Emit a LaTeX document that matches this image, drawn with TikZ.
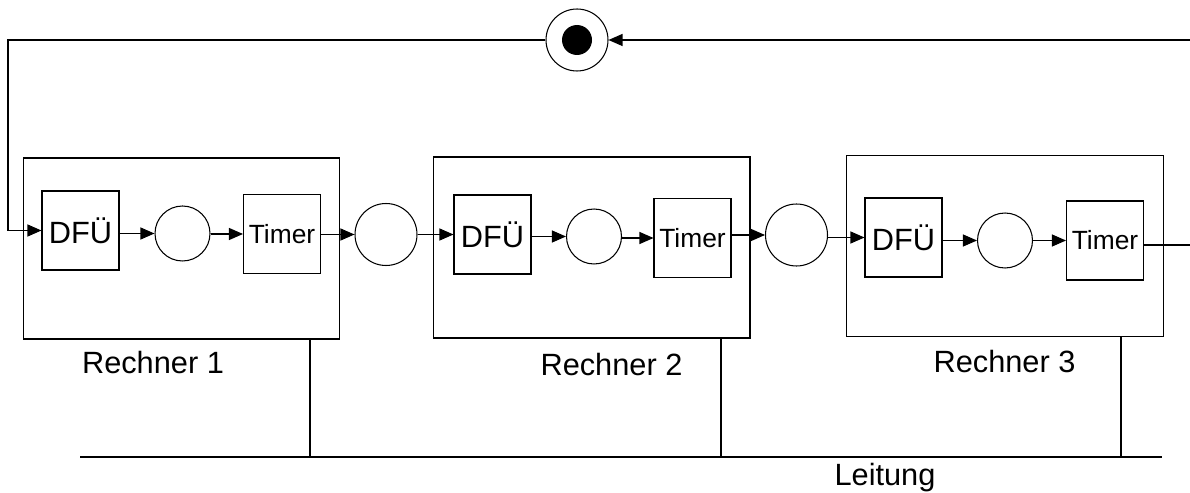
\documentclass[tikz,border=0pt]{standalone}
\usepackage{fontspec}
\setmainfont{Liberation Sans}
\usetikzlibrary{arrows.meta}

\begin{document}
\begin{tikzpicture}[x=0.02cm,y=-0.02cm,line width=0.6pt,
  rechner/.style={draw,minimum width=6.34cm,minimum height=3.62cm,inner sep=0pt},
  kasten/.style={draw,minimum width=1.54cm,minimum height=1.58cm,inner sep=0pt,font=\fontsize{17.5}{20}\selectfont},
  uhr/.style={kasten,font=\fontsize{15}{18}\selectfont},
  kreis/.style={draw,circle,minimum size=1.1cm,inner sep=0pt},
  zwischen/.style={draw,circle,minimum size=1.24cm,inner sep=0pt},
  pfeil/.style={-{Triangle[length=0.28cm,width=0.24cm]}},
  beschriftung/.style={anchor=base,font=\fontsize{17.5}{20}\selectfont}]
\useasboundingbox (0,0) rectangle (1190,493);

% Startzustand oben
\node[zwischen] (start) at (577,40) {};
\node[circle,fill,minimum size=0.6cm,inner sep=0pt] (startpunkt) at (start) {};

% die drei Rechner
\node[rechner] (rechner1) at (181.5,248.5) {};
\node[rechner] (rechner2) at (591.5,247.5) {};
\node[rechner] (rechner3) at (1005,246) {};

\node[kasten] (dfu1) at (80.5,230.5) {DFÜ};
\node[kreis] (kreis1) at (182.5,233.5) {};
\node[uhr] (timer1) at (282,234) {Timer};

\node[kasten] (dfu2) at (492.5,234.5) {DFÜ};
\node[kreis] (kreis2) at (594,236.5) {};
\node[uhr] (timer2) at (692.5,238) {Timer};

\node[kasten] (dfu3) at (903.5,237.5) {DFÜ};
\node[kreis] (kreis3) at (1005,240.5) {};
\node[uhr] (timer3) at (1105,240.5) {Timer};

\node[zwischen] (zwischen1) at (386,234.5) {};
\node[zwischen] (zwischen2) at (796.5,235) {};

\node[beschriftung] (label1) at (153,373) {Rechner 1};
\node[beschriftung] (label2) at (611.5,375) {Rechner 2};
\node[beschriftung] (label3) at (1004.5,372) {Rechner 3};

% Ablauf
\draw[pfeil] (dfu1.east |- kreis1) -- (kreis1);
\draw[pfeil] (kreis1.east |- timer1) -- (timer1);
\draw[pfeil] (timer1.east |- zwischen1) -- (zwischen1);
\draw[pfeil] (zwischen1.east |- dfu2) -- (dfu2);
\draw[pfeil] (dfu2.east |- kreis2) -- (kreis2);
\draw[pfeil] (kreis2.east |- timer2) -- (timer2);
\draw[pfeil] (timer2.east |- zwischen2) -- (zwischen2);
\draw[pfeil] (zwischen2.east |- dfu3) -- (dfu3);
\draw[pfeil] (dfu3.east |- kreis3) -- (kreis3);
\draw[pfeil] (kreis3.east |- timer3) -- (timer3);

% Rueckfuehrung
\coordinate (eckeL) at (8,40);
\coordinate (randO) at (1190,40);
\coordinate (randU) at (1190,245);
\draw[pfeil] (start.west) -- (eckeL) |- (dfu1.west);
\draw (timer3.east |- randU) -- (randU);
\draw[pfeil] (randO) -- (start.east);

% Leitung
\coordinate (busL) at (80,457);
\coordinate (busR) at (1162,457);
\coordinate (abzweig1) at (310,457);
\coordinate (abzweig2) at (721,457);
\coordinate (abzweig3) at (1121,457);
\draw (busL) -- (busR);
\draw (rechner1.south -| abzweig1) -- (abzweig1);
\draw (rechner2.south -| abzweig2) -- (abzweig2);
\draw (rechner3.south -| abzweig3) -- (abzweig3);
\node[beschriftung] (leitung) at (885,485) {Leitung};
\end{tikzpicture}
\end{document}
